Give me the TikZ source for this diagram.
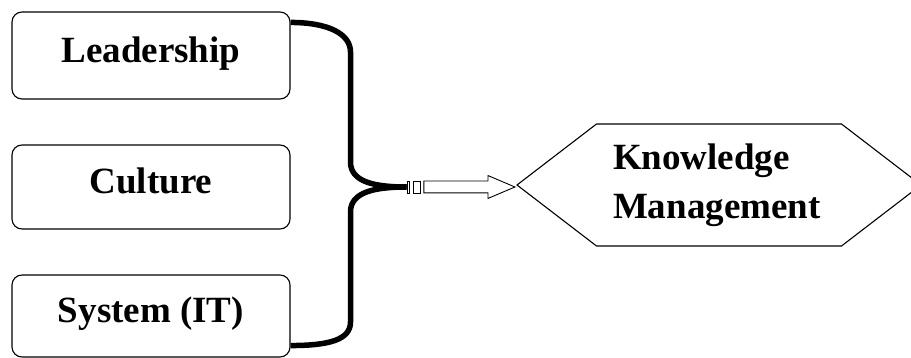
\documentclass[tikz,border=0pt]{standalone}
\usepackage{fontspec}
\setmainfont{Liberation Serif}
\usetikzlibrary{shapes,arrows,positioning,calc,shapes.symbols,shapes.arrows}

\begin{document}
\begin{tikzpicture}[
    x=1pt, y=-1pt,
    factor/.style={rectangle, rounded corners=10pt, draw, line width=1.1pt, minimum width=278pt, text height=24pt, text depth=10pt, font=\bfseries\fontsize{37}{49}\selectfont},
    goal/.style={signal, signal to=west and east, signal pointer angle=75, draw, line width=1.1pt, minimum width=404pt, minimum height=122pt, text width=212pt, align=left, font=\bfseries\fontsize{37}{49}\selectfont},
    brace/.style={line width=5.5pt},
    stripe/.style={rectangle, draw, line width=0.9pt, inner sep=0pt, minimum height=12pt}
]
    \useasboundingbox (0,0) rectangle (911,358);

    \node[factor, minimum height=87pt] (lead) at (151,55.5) {Leadership};
    \node[factor, minimum height=84pt] (cult) at (151,187) {Culture};
    \node[factor, minimum height=82pt] (sys) at (151,316) {System (IT)};

    \node[goal] (km) at (719,185) {Knowledge\\Management};

    % striped arrow into the hexagon
    \node[single arrow, draw, line width=0.9pt, inner xsep=0pt, inner ysep=5.5pt, minimum height=91pt, single arrow tip angle=46, single arrow head extend=5.5pt, anchor=tip] (ka) at ($(km.west)+(0,2)$) {};
    \node[stripe, minimum width=7pt, left=2.5pt of ka.tail] (s2) {};
    \node[stripe, minimum width=2.5pt, left=3pt of s2] (s1) {};

    % brace
    \draw[brace] ($(lead.north east)+(0,11)$) .. controls +(38,0) and +(0,-18) .. (350.5,52) -- (350.5,162) .. controls +(0,20) and +(-32,0) .. (s1.west);
    \draw[brace] ($(sys.south east)+(0,-12)$) .. controls +(38,0) and +(0,18) .. (350.5,322) -- (350.5,212) .. controls +(0,-20) and +(-32,0) .. (s1.west);
\end{tikzpicture}
\end{document}
